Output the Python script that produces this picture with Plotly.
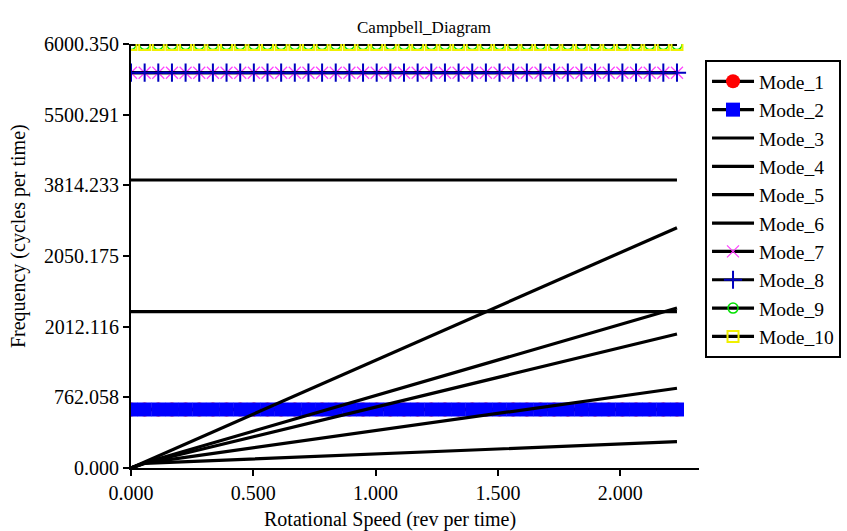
import plotly.graph_objects as go

# ---- data ----
speed = [0.0, 0.0558, 0.1116, 0.1674, 0.2232, 0.279, 0.3348, 0.3906, 0.4464, 0.5022,
         0.558, 0.6138, 0.6696, 0.7254, 0.7812, 0.837, 0.8928, 0.9486, 1.0044, 1.0602,
         1.116, 1.1718, 1.2276, 1.2834, 1.3392, 1.395, 1.4508, 1.5066, 1.5624, 1.6182,
         1.674, 1.7298, 1.7856, 1.8414, 1.8972, 1.953, 2.0088, 2.0646, 2.1204, 2.1762, 2.232]

mode1_freq = 828
mode2_freq = 828
mode3_freq = 4076
mode4_freq = 2212
mode7_freq = 5594
mode8_freq = 5594
mode9_freq = 5994
mode10_freq = 5994

diag_speed = [0.0, 0.0558, 2.232]
mode5_vals = [0, 85, 3401]
mode6_vals = [0, 75, 2264]
extra_a_vals = [0, 70, 1896]
extra_b_vals = [0, 70, 1128]
extra_c_vals = [0, 65, 372]

ytick_vals = [0, 1000.058, 2000.117, 3000.175, 4000.233, 5000.292, 6000.35]
ytick_text = ["0.000", "762.058", "2012.116", "2050.175", "3814.233", "5500.291", "6000.350"]
xtick_vals = [0.0, 0.5, 1.0, 1.5, 2.0]

FONT = "Liberation Serif"
LW = 3.2

fig = go.Figure()

def const(v):
    return [v] * len(speed)

fig.add_trace(go.Scatter(x=speed, y=const(mode1_freq), name="Mode_1", mode="lines+markers",
                         line=dict(color="black", width=LW),
                         marker=dict(symbol="circle", size=14, color="red"), legendgroup="1"))
fig.add_trace(go.Scatter(x=speed, y=const(mode2_freq), name="Mode_2", mode="lines+markers",
                         line=dict(color="black", width=LW),
                         marker=dict(symbol="square", size=14, color="blue"), legendgroup="2"))
fig.add_trace(go.Scatter(x=speed, y=const(mode3_freq), name="Mode_3", mode="lines",
                         line=dict(color="black", width=LW), legendgroup="3"))
fig.add_trace(go.Scatter(x=speed, y=const(mode4_freq), name="Mode_4", mode="lines",
                         line=dict(color="black", width=LW), legendgroup="4"))
fig.add_trace(go.Scatter(x=diag_speed, y=mode5_vals, name="Mode_5", mode="lines",
                         line=dict(color="black", width=LW), legendgroup="5"))
fig.add_trace(go.Scatter(x=diag_speed, y=mode6_vals, name="Mode_6", mode="lines",
                         line=dict(color="black", width=LW), legendgroup="6"))
for vals in (extra_a_vals, extra_b_vals, extra_c_vals):
    fig.add_trace(go.Scatter(x=diag_speed, y=vals, mode="lines", showlegend=False,
                             line=dict(color="black", width=LW)))
fig.add_trace(go.Scatter(x=speed, y=const(mode7_freq), name="Mode_7", mode="lines+markers",
                         line=dict(color="black", width=LW),
                         marker=dict(symbol="x-thin", size=12, color="#ff40ff",
                                     line=dict(color="#ff40ff", width=1.2)), legendgroup="7"))
fig.add_trace(go.Scatter(x=speed, y=const(mode8_freq), name="Mode_8", mode="lines+markers",
                         line=dict(color="black", width=LW),
                         marker=dict(symbol="cross-thin", size=13, color="#0000c0",
                                     line=dict(color="#0000c0", width=2)), legendgroup="8"))
fig.add_trace(go.Scatter(x=speed, y=const(mode9_freq), name="Mode_9", mode="lines+markers",
                         line=dict(color="black", width=LW),
                         marker=dict(symbol="circle-open", size=10, color="#00e000",
                                     line=dict(color="#00e000", width=1.5)), legendgroup="9"))
fig.add_trace(go.Scatter(x=speed, y=const(mode10_freq), name="Mode_10", mode="lines+markers",
                         line=dict(color="black", width=LW),
                         marker=dict(symbol="square-open", size=11, color="#f0f000",
                                     line=dict(color="#f0f000", width=2)), legendgroup="10"))

fig.update_layout(
    width=847, height=531,
    margin=dict(l=131, r=148, t=44, b=63, autoexpand=False),
    paper_bgcolor="white", plot_bgcolor="white",
    font=dict(family=FONT, size=20, color="black"),
    showlegend=True,
    legend=dict(x=1.0106, y=0.962, xanchor="left", yanchor="top",
                bordercolor="black", borderwidth=2, bgcolor="white",
                font=dict(family=FONT, size=19.5), tracegroupgap=3,
                traceorder="normal", itemwidth=42, maxheight=420),
    annotations=[
        dict(text="Campbell_Diagram", xref="paper", yref="paper", x=0.516, y=1.0,
             yshift=17, xanchor="center", yanchor="middle", showarrow=False,
             font=dict(family=FONT, size=17)),
        dict(text="Rotational Speed (rev per time)", xref="paper", yref="paper",
             x=0.456, y=0, yshift=-51, xanchor="center", yanchor="middle",
             showarrow=False, font=dict(family=FONT, size=20)),
        dict(text="Frequency (cycles per time)", xref="paper", yref="paper",
             x=0, xshift=-113, y=0.547, xanchor="center", yanchor="middle",
             textangle=-90, showarrow=False, font=dict(family=FONT, size=20)),
    ],
)
fig.update_xaxes(range=[0, 2.322], tickvals=xtick_vals, tickformat=".3f",
                 showgrid=False, zeroline=False, showline=True, linecolor="black",
                 linewidth=2, ticks="outside", ticklen=6, tickwidth=2, tickcolor="black")
fig.update_yaxes(range=[0, 6000.35], tickvals=ytick_vals, ticktext=ytick_text,
                 showgrid=False, zeroline=False, showline=True, linecolor="black",
                 linewidth=2, ticks="outside", ticklen=6, tickwidth=2, tickcolor="black")

fig.write_html("out.html")
